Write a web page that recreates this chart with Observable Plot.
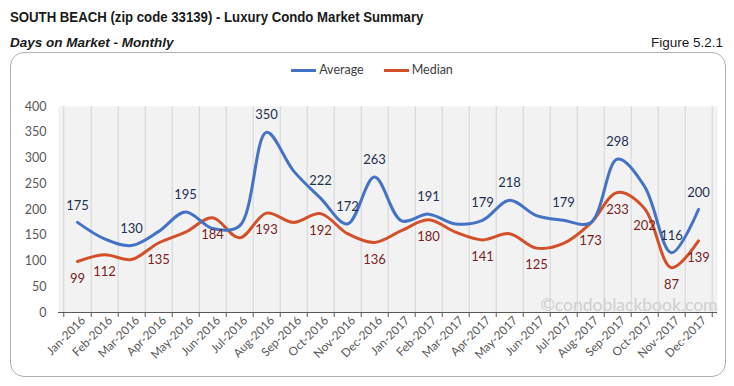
<!DOCTYPE html>
<html>
<head>
<meta charset="utf-8">
<script src="https://cdn.jsdelivr.net/npm/d3@7"></script>
<script src="https://cdn.jsdelivr.net/npm/@observablehq/plot@0.6"></script>
<style>
  html, body { margin: 0; padding: 0; background: #fff; }
  #page { position: relative; width: 734px; height: 386px; overflow: hidden; font-family: "Liberation Sans Narrow", "Arial Narrow", "Liberation Sans", sans-serif; }
  #title { position: absolute; left: 10px; top: 9px; font-size: 14.5px; color: #1a1a1a; font-weight: bold; white-space: nowrap; transform-origin: 0 0; }
  #subtitle { position: absolute; left: 10px; top: 35px; font-size: 13.5px; color: #1a1a1a; font-weight: bold; font-style: italic; }
  #figure { position: absolute; right: 11px; top: 35px; font-size: 13.5px; color: #1a1a1a; }
  #box { position: absolute; left: 10px; top: 52px; width: 714px; height: 323px; border: 1px solid #b0b0b0; border-radius: 14px; }
  #legend { position: absolute; left: 0; top: 62px; width: 744px; text-align: center; font-family: Lato, "Open Sans", sans-serif; font-size: 12.5px; color: #404040; }
  #legend span.sw { display: inline-block; width: 25px; height: 3px; vertical-align: middle; margin-right: 3px; }
  #legend span.item { margin: 0 10px; }
  #chart { position: absolute; left: 0; top: 85px; }
</style>
</head>
<body>
<div id="page">
  <div id="title">SOUTH BEACH (zip code 33139) - Luxury Condo Market Summary</div>
  <div id="subtitle">Days on Market - Monthly</div>
  <div id="figure">Figure 5.2.1</div>
  <div id="box"></div>
  <div id="legend"></div>
  <div id="chart"></div>
</div>
<script>
const months = ["Jan-2016","Feb-2016","Mar-2016","Apr-2016","May-2016","Jun-2016","Jul-2016","Aug-2016","Sep-2016","Oct-2016","Nov-2016","Dec-2016",
                "Jan-2017","Feb-2017","Mar-2017","Apr-2017","May-2017","Jun-2017","Jul-2017","Aug-2017","Sep-2017","Oct-2017","Nov-2017","Dec-2017"];
const average = [175,143,130,157,195,163,168,350,275,222,172,263,178,191,172,179,218,188,179,174,298,245,116,200];
const median  = [99,112,103,135,156,184,145,193,175,192,153,136,159,180,156,141,153,125,134,173,233,202,87,139];
const averageLabeled = ["Jan-2016","Mar-2016","May-2016","Aug-2016","Oct-2016","Nov-2016","Dec-2016","Feb-2017","Apr-2017","May-2017","Jul-2017","Sep-2017","Nov-2017","Dec-2017"];
const medianLabeled  = ["Jan-2016","Feb-2016","Apr-2016","Jun-2016","Aug-2016","Oct-2016","Dec-2016","Feb-2017","Apr-2017","Jun-2017","Aug-2017","Sep-2017","Oct-2017","Nov-2017","Dec-2017"];
const yTicks = [0,50,100,150,200,250,300,350,400];
const seriesNames = ["Average","Median"];
const colors = {Average: "#4472C4", Median: "#D2502A"};
const labelColors = {Average: "#1F3050", Median: "#7A1E1E"};

const avgData = months.map((m, i) => ({month: m, value: average[i], series: "Average"}));
const medData = months.map((m, i) => ({month: m, value: median[i], series: "Median"}));

// narrow the title to match the condensed face of the original
const titleEl = document.getElementById("title");
titleEl.style.transform = `scaleX(${413 / titleEl.offsetWidth})`;

const W = 734, H = 291, mL = 58, mR = 17, mT = 21, mB = 64;
const step = (W - mL - mR) / months.length;
const font = "Lato, 'Open Sans', sans-serif";

// legend
const legend = document.getElementById("legend");
legend.innerHTML = seriesNames.map(s =>
  `<span class="item"><span class="sw" style="background:${colors[s]}"></span>${s}</span>`).join("");

const chart = Plot.plot({
  width: W, height: H,
  marginLeft: mL, marginRight: mR, marginTop: mT, marginBottom: mB,
  style: {fontFamily: font, fontSize: "12px", background: "transparent", overflow: "visible"},
  x: {type: "point", domain: months, padding: 0.5, label: null},
  y: {domain: [0, 400], label: null},
  marks: [
    Plot.frame({fill: "#f2f2f2", stroke: null}),
    Plot.ruleX(months, {x: d => d, dx: step / 2, stroke: "#d4d4d4", strokeWidth: 1}),
    Plot.ruleX([months[0]], {x: d => d, dx: -step / 2, stroke: "#d4d4d4", strokeWidth: 1}),
    Plot.axisY({ticks: yTicks, tickSize: 0, tickPadding: 12, fill: "#595959", fontSize: 12.5, label: null}),
    Plot.axisX({ticks: months, tickSize: 5, dx: step / 2, tickFormat: () => "", stroke: "#595959", label: null}),
    Plot.axisX({ticks: [months[0]], tickSize: 5, dx: -step / 2, tickFormat: () => "", stroke: "#595959", label: null}),
    Plot.axisX({ticks: months, tickSize: 0, tickRotate: -45, tickPadding: 4, fill: "#595959", fontSize: 11.8, label: null, textAnchor: "end", dx: 6, dy: 2}),
    Plot.ruleY([0], {stroke: "#595959", strokeWidth: 1}),
    Plot.text(["©condoblackbook.com"], {frameAnchor: "bottom-right", dx: 0, dy: -2, text: d => d, fill: "#cfcfcf", fontSize: 17.5, fontFamily: "Lato, sans-serif", textAnchor: "end"}),
    Plot.line(medData, {x: "month", y: "value", stroke: colors.Median, strokeWidth: 3, curve: "catmull-rom"}),
    Plot.line(avgData, {x: "month", y: "value", stroke: colors.Average, strokeWidth: 3, curve: "catmull-rom"}),
    Plot.text(avgData.filter(d => averageLabeled.includes(d.month)), {x: "month", y: "value", text: d => String(d.value), dy: -17, fill: labelColors.Average, fontSize: 13}),
    Plot.text(medData.filter(d => medianLabeled.includes(d.month)), {x: "month", y: "value", text: d => String(d.value), dy: 17, fill: labelColors.Median, fontSize: 13})
  ]
});
document.getElementById("chart").appendChild(chart);
</script>
</body>
</html>
